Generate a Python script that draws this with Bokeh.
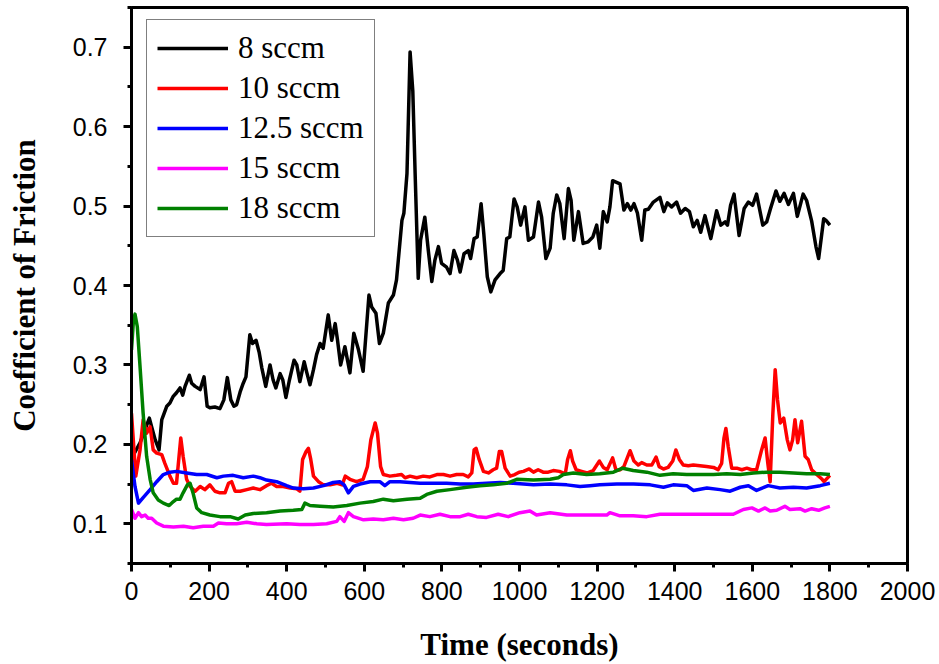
from bokeh.plotting import figure
from bokeh.models import FixedTicker, Range1d, Legend, LegendItem
from bokeh.embed import file_html
from bokeh.resources import INLINE

# ---------------- data ----------------
series_names = ["8 sccm", "10 sccm", "12.5 sccm", "15 sccm", "18 sccm"]
series_colors = ["#000000", "#FF0000", "#0000FF", "#FF00FF", "#008000"]

t_8 = [1, 22, 46, 52, 61, 71, 78, 81, 91, 99,
       107, 116, 125, 132, 138, 149, 155, 164, 177, 187,
       195, 202, 215, 228, 238, 247, 256, 264, 271, 280,
       288, 295, 305, 312, 321, 329, 336, 346, 357, 365,
       372, 383, 390, 398, 407, 419, 426, 434, 445, 452,
       460, 469, 477, 486, 494, 507, 516, 525, 531, 539,
       550, 563, 573, 585, 597, 612, 619, 630, 639, 649,
       662, 675, 683, 697, 702, 710, 718, 725, 731, 739,
       745, 756, 765, 774, 782, 791, 799, 812, 821, 831,
       840, 847, 857, 868, 874, 883, 891, 901, 908, 917,
       926, 937, 950, 958, 967, 975, 986, 994, 1003, 1014,
       1023, 1036, 1049, 1057, 1068, 1079, 1087, 1096, 1104, 1115,
       1126, 1133, 1140, 1152, 1164, 1177, 1189, 1199, 1207, 1216,
       1226, 1233, 1240, 1259, 1269, 1278, 1287, 1295, 1304, 1315,
       1323, 1332, 1345, 1362, 1372, 1381, 1392, 1405, 1415, 1427,
       1438, 1448, 1458, 1467, 1478, 1493, 1508, 1519, 1530, 1536,
       1544, 1553, 1566, 1579, 1590, 1601, 1611, 1627, 1637, 1647,
       1661, 1671, 1682, 1693, 1706, 1716, 1731, 1740, 1753, 1764,
       1771, 1777, 1784, 1790, 1800]
cof_8 = [0.183, 0.202, 0.233, 0.222, 0.206, 0.193, 0.231, 0.235, 0.248, 0.252,
         0.260, 0.265, 0.271, 0.262, 0.273, 0.287, 0.277, 0.273, 0.269, 0.285,
         0.248, 0.246, 0.247, 0.245, 0.256, 0.284, 0.256, 0.248, 0.250, 0.266,
         0.277, 0.285, 0.338, 0.327, 0.331, 0.316, 0.296, 0.273, 0.300, 0.281,
         0.271, 0.289, 0.281, 0.259, 0.281, 0.306, 0.300, 0.279, 0.304, 0.290,
         0.275, 0.294, 0.313, 0.327, 0.321, 0.363, 0.331, 0.352, 0.331, 0.300,
         0.323, 0.290, 0.340, 0.319, 0.292, 0.388, 0.373, 0.365, 0.327, 0.340,
         0.378, 0.388, 0.407, 0.482, 0.491, 0.541, 0.694, 0.645, 0.541, 0.409,
         0.457, 0.486, 0.444, 0.405, 0.432, 0.449, 0.428, 0.423, 0.415, 0.444,
         0.432, 0.417, 0.440, 0.444, 0.434, 0.459, 0.461, 0.503, 0.465, 0.411,
         0.392, 0.407, 0.415, 0.419, 0.459, 0.461, 0.509, 0.499, 0.476, 0.499,
         0.457, 0.461, 0.505, 0.486, 0.434, 0.447, 0.491, 0.514, 0.503, 0.459,
         0.522, 0.507, 0.457, 0.493, 0.453, 0.455, 0.461, 0.476, 0.447, 0.493,
         0.480, 0.499, 0.532, 0.528, 0.495, 0.503, 0.495, 0.503, 0.491, 0.457,
         0.495, 0.496, 0.505, 0.511, 0.493, 0.504, 0.499, 0.505, 0.491, 0.497,
         0.493, 0.474, 0.482, 0.467, 0.488, 0.459, 0.494, 0.476, 0.480, 0.476,
         0.501, 0.515, 0.463, 0.497, 0.505, 0.501, 0.515, 0.476, 0.480, 0.497,
         0.519, 0.506, 0.516, 0.502, 0.516, 0.487, 0.515, 0.507, 0.481, 0.449,
         0.434, 0.457, 0.484, 0.482, 0.476]

t_10 = [0, 11, 22, 30, 39, 48, 56, 65, 78, 86,
        99, 108, 116, 127, 133, 142, 151, 164, 177, 189,
        202, 215, 228, 241, 250, 258, 267, 280, 297, 314,
        331, 348, 361, 374, 391, 409, 426, 434, 441, 450,
        456, 462, 469, 482, 495, 512, 530, 543, 551, 563,
        580, 597, 608, 617, 628, 634, 642, 649, 666, 683,
        696, 705, 718, 735, 752, 769, 787, 804, 821, 838,
        855, 868, 877, 883, 888, 896, 907, 920, 932, 941,
        948, 954, 963, 976, 988, 999, 1010, 1025, 1036, 1048,
        1061, 1074, 1087, 1103, 1118, 1124, 1131, 1137, 1146, 1160,
        1175, 1190, 1206, 1216, 1226, 1240, 1249, 1259, 1269, 1285,
        1295, 1306, 1315, 1328, 1341, 1352, 1360, 1371, 1383, 1395,
        1403, 1412, 1422, 1435, 1448, 1465, 1482, 1500, 1512, 1521,
        1527, 1532, 1538, 1547, 1560, 1573, 1586, 1598, 1611, 1624,
        1633, 1640, 1646, 1653, 1659, 1665, 1672, 1681, 1690, 1697,
        1704, 1710, 1717, 1727, 1736, 1744, 1753, 1766, 1780, 1785,
        1800]
cof_10 = [0.239, 0.160, 0.193, 0.231, 0.214, 0.222, 0.193, 0.189, 0.187, 0.176,
          0.160, 0.151, 0.151, 0.208, 0.185, 0.156, 0.147, 0.141, 0.147, 0.143,
          0.149, 0.141, 0.139, 0.139, 0.151, 0.153, 0.141, 0.141, 0.143, 0.145,
          0.143, 0.148, 0.151, 0.147, 0.147, 0.145, 0.144, 0.141, 0.181, 0.191,
          0.195, 0.181, 0.160, 0.153, 0.149, 0.149, 0.151, 0.149, 0.160, 0.156,
          0.153, 0.156, 0.172, 0.206, 0.227, 0.214, 0.172, 0.162, 0.160, 0.161,
          0.162, 0.158, 0.160, 0.158, 0.160, 0.159, 0.162, 0.162, 0.160, 0.162,
          0.162, 0.159, 0.164, 0.193, 0.195, 0.181, 0.166, 0.164, 0.168, 0.170,
          0.191, 0.191, 0.170, 0.160, 0.162, 0.165, 0.166, 0.169, 0.165, 0.168,
          0.165, 0.165, 0.167, 0.166, 0.163, 0.181, 0.192, 0.179, 0.168, 0.166,
          0.164, 0.167, 0.179, 0.171, 0.168, 0.183, 0.167, 0.168, 0.172, 0.192,
          0.179, 0.174, 0.177, 0.174, 0.174, 0.184, 0.172, 0.169, 0.171, 0.179,
          0.193, 0.181, 0.174, 0.173, 0.174, 0.173, 0.172, 0.171, 0.168, 0.176,
          0.208, 0.220, 0.197, 0.170, 0.170, 0.168, 0.170, 0.168, 0.168, 0.193,
          0.208, 0.176, 0.153, 0.239, 0.294, 0.256, 0.227, 0.233, 0.206, 0.193,
          0.206, 0.231, 0.202, 0.229, 0.185, 0.181, 0.168, 0.162, 0.156, 0.153,
          0.161]

t_125 = [0, 9, 18, 30, 48, 65, 82, 99, 116, 142,
         168, 194, 220, 237, 262, 288, 314, 331, 348, 374,
         400, 417, 443, 469, 495, 520, 537, 548, 559, 572,
         589, 615, 640, 653, 666, 692, 718, 744, 778, 812,
         847, 881, 915, 950, 984, 1036, 1079, 1122, 1156, 1182,
         1207, 1251, 1294, 1337, 1371, 1396, 1431, 1448, 1483, 1517,
         1543, 1569, 1590, 1611, 1641, 1671, 1706, 1740, 1775, 1800]
cof_125 = [0.181, 0.147, 0.126, 0.133, 0.143, 0.153, 0.162, 0.165, 0.166, 0.164,
           0.162, 0.162, 0.158, 0.160, 0.161, 0.158, 0.160, 0.158, 0.155, 0.153,
           0.148, 0.145, 0.144, 0.145, 0.148, 0.152, 0.153, 0.149, 0.139, 0.147,
           0.150, 0.153, 0.153, 0.148, 0.153, 0.153, 0.152, 0.151, 0.151, 0.151,
           0.150, 0.150, 0.151, 0.152, 0.151, 0.149, 0.150, 0.149, 0.147, 0.148,
           0.149, 0.150, 0.150, 0.149, 0.146, 0.149, 0.148, 0.142, 0.145, 0.143,
           0.141, 0.146, 0.148, 0.142, 0.148, 0.145, 0.146, 0.145, 0.148, 0.151]

t_15 = [0, 9, 18, 26, 35, 43, 52, 65, 82, 108,
        134, 159, 185, 211, 224, 245, 271, 297, 323, 348,
        400, 434, 469, 503, 529, 537, 548, 559, 572, 598,
        623, 649, 675, 701, 726, 744, 769, 795, 821, 847,
        868, 890, 915, 945, 971, 1001, 1027, 1044, 1079, 1122,
        1173, 1225, 1233, 1259, 1293, 1328, 1362, 1396, 1448, 1500,
        1551, 1577, 1599, 1616, 1633, 1646, 1663, 1684, 1697, 1723,
        1736, 1753, 1771, 1787, 1800]
cof_15 = [0.118, 0.107, 0.114, 0.109, 0.111, 0.107, 0.107, 0.101, 0.097, 0.096,
          0.097, 0.095, 0.097, 0.097, 0.101, 0.100, 0.100, 0.102, 0.100, 0.099,
          0.100, 0.099, 0.099, 0.100, 0.103, 0.109, 0.103, 0.114, 0.109, 0.105,
          0.106, 0.105, 0.107, 0.105, 0.107, 0.111, 0.109, 0.112, 0.109, 0.109,
          0.112, 0.109, 0.108, 0.112, 0.109, 0.114, 0.116, 0.111, 0.114, 0.111,
          0.111, 0.111, 0.114, 0.110, 0.110, 0.109, 0.112, 0.112, 0.112, 0.112,
          0.112, 0.118, 0.120, 0.116, 0.120, 0.116, 0.117, 0.122, 0.118, 0.119,
          0.116, 0.119, 0.117, 0.120, 0.122]

t_18 = [0, 5, 9, 15, 22, 30, 39, 48, 56, 69,
        82, 97, 108, 116, 125, 133, 144, 151, 159, 168,
        181, 202, 228, 254, 275, 293, 314, 348, 383, 417,
        439, 447, 460, 486, 520, 555, 589, 623, 649, 675,
        710, 744, 761, 787, 821, 864, 898, 932, 967, 993,
        1036, 1079, 1100, 1113, 1139, 1173, 1207, 1242, 1266, 1293,
        1328, 1362, 1396, 1431, 1465, 1500, 1534, 1569, 1603, 1637,
        1671, 1706, 1740, 1775, 1800]
cof_18 = [0.319, 0.356, 0.364, 0.348, 0.298, 0.239, 0.185, 0.156, 0.139, 0.130,
          0.126, 0.123, 0.128, 0.131, 0.131, 0.139, 0.149, 0.151, 0.138, 0.120,
          0.114, 0.111, 0.109, 0.109, 0.106, 0.111, 0.113, 0.114, 0.116, 0.117,
          0.118, 0.126, 0.123, 0.122, 0.121, 0.123, 0.126, 0.128, 0.131, 0.129,
          0.131, 0.132, 0.137, 0.141, 0.143, 0.146, 0.148, 0.149, 0.151, 0.156,
          0.155, 0.156, 0.158, 0.162, 0.164, 0.162, 0.163, 0.165, 0.170, 0.167,
          0.165, 0.161, 0.163, 0.162, 0.162, 0.162, 0.163, 0.162, 0.164, 0.165,
          0.165, 0.164, 0.163, 0.163, 0.162]

x_ticks = [0, 200, 400, 600, 800, 1000, 1200, 1400, 1600, 1800, 2000]
x_minor = [100, 300, 500, 700, 900, 1100, 1300, 1500, 1700, 1900]
y_ticks = [0.1, 0.2, 0.3, 0.4, 0.5, 0.6, 0.7]
y_minor = [0.05, 0.15, 0.25, 0.35, 0.45, 0.55, 0.65, 0.75]

xs = [t_8, t_10, t_125, t_15, t_18]
ys = [cof_8, cof_10, cof_125, cof_15, cof_18]

# ---------------- figure ----------------
p = figure(width=939, height=664, output_backend="svg", toolbar_location=None,
           x_range=Range1d(0, 2000), y_range=Range1d(0.05, 0.75),
           min_border_left=131, min_border_right=32,
           min_border_top=7, min_border_bottom=100)
p.background_fill_color = "white"
p.border_fill_color = "white"
p.xgrid.visible = False
p.ygrid.visible = False
p.outline_line_color = "black"
p.outline_line_width = 3

items = []
for name, color, x, y in zip(series_names, series_colors, xs, ys):
    r = p.line(x, y, line_color=color, line_width=3.5, line_join="round")
    items.append(LegendItem(label=name, renderers=[r]))

p.xaxis.ticker = FixedTicker(ticks=x_ticks, minor_ticks=x_minor)
p.yaxis.ticker = FixedTicker(ticks=y_ticks, minor_ticks=y_minor)
p.xaxis.axis_label = "Time (seconds)"
p.yaxis.axis_label = "Coefficient of Friction"

for ax in (p.xaxis[0], p.yaxis[0]):
    ax.axis_line_width = 3
    ax.axis_line_color = "black"
    ax.major_tick_line_width = 3
    ax.minor_tick_line_width = 3
    ax.major_tick_out = 8
    ax.major_tick_in = 0
    ax.minor_tick_out = 4
    ax.minor_tick_in = 0
    ax.major_label_text_font = "Liberation Sans"
    ax.major_label_text_font_size = "25px"
    ax.major_label_text_color = "black"
    ax.axis_label_text_font = "Liberation Serif"
    ax.axis_label_text_font_style = "bold"
    ax.axis_label_text_font_size = "31px"
    ax.axis_label_text_color = "black"

p.xaxis[0].major_label_standoff = 10
p.xaxis[0].axis_label_standoff = 24
p.yaxis[0].major_label_standoff = 16
p.yaxis[0].axis_label_standoff = 28

legend = Legend(items=items, location=(15, 326))
legend.label_text_font = "Liberation Serif"
legend.label_text_font_size = "31px"
legend.label_text_color = "black"
legend.glyph_width = 71
legend.glyph_height = 20
legend.label_height = 36
legend.spacing = 4
legend.padding = 10
legend.margin = 0
legend.label_standoff = 10
legend.border_line_color = "black"
legend.border_line_width = 1
legend.background_fill_color = "white"
legend.background_fill_alpha = 1.0
p.add_layout(legend)

open("out.html", "w").write(file_html(p, INLINE))
